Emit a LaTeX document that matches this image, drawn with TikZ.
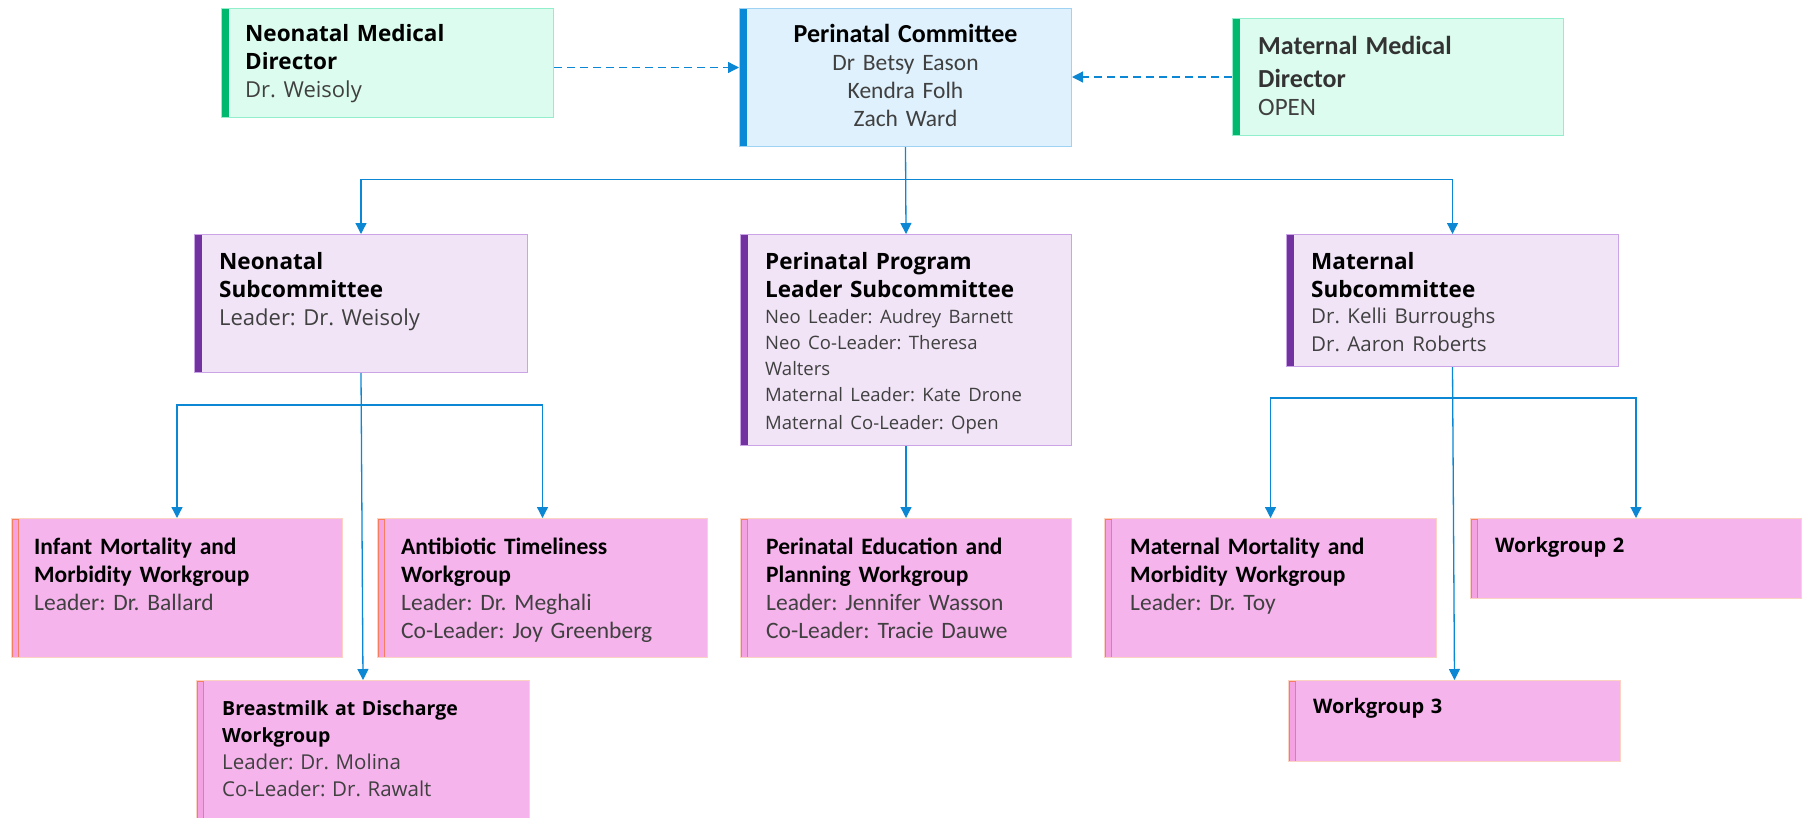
\documentclass[tikz,border=0pt]{standalone}
\usepackage{fontspec}
\setmainfont{Open Sans}
\newfontfamily\calibri{Carlito}
\usetikzlibrary{positioning}
\usetikzlibrary{arrows.meta}
\frenchspacing

\definecolor{mintfill}{HTML}{DCFCEF}
\definecolor{mintedge}{HTML}{93EFCB}
\definecolor{mintbar}{HTML}{00B86E}
\definecolor{skyfill}{HTML}{DEF1FD}
\definecolor{skyedge}{HTML}{9FD3F3}
\definecolor{skybar}{HTML}{0A8AD6}
\definecolor{lilacfill}{HTML}{F1E4F7}
\definecolor{lilacedge}{HTML}{CBA4E8}
\definecolor{lilacbar}{HTML}{7232A0}
\definecolor{pinkfill}{HTML}{F5B4EC}
\definecolor{pinkedge}{HTML}{FBD3C2}
\definecolor{pinkbar}{HTML}{F4A2E2}
\definecolor{orangebar}{HTML}{F47E5E}
\definecolor{linkblue}{HTML}{0B87D4}
\definecolor{bodygray}{HTML}{404040}

\tikzset{
	card/.style={
		draw,
		rectangle,
		line width=1pt,
		anchor=north west,
		inner sep=0pt,
		minimum width=332pt},
	bar/.style={path picture={
		\fill[#1] (path picture bounding box.north west) rectangle ([xshift=7pt]path picture bounding box.south west);}},
	director/.style={card, fill=mintfill, draw=mintedge, bar=mintbar},
	committee/.style={card, fill=skyfill, draw=skyedge, bar=skybar},
	subcom/.style={card, fill=lilacfill, draw=lilacedge, bar=lilacbar},
	workgroup/.style={card, fill=pinkfill, draw=pinkedge, path picture={
		\filldraw[fill=pinkbar, draw=orangebar, line width=1pt] ([xshift=0.5pt,yshift=-0.5pt]path picture bounding box.north west) rectangle ([xshift=7pt,yshift=0.5pt]path picture bounding box.south west);}},
	seg text/.style={
		anchor=north west,
		inner sep=0pt,
		align=left,
		text width=300pt,
		font=\fontsize{20}{27.6}\selectfont},
	big seg text/.style={
		seg text,
		font=\fontsize{22.5}{28}\selectfont},
	cal text/.style={
		seg text,
		font=\calibri\fontsize{23.5}{28}\selectfont},
	link/.style={
		draw=linkblue,
		line width=1.3pt,
		-{Triangle[length=11pt,width=11pt]}}
}

\begin{document}
\begin{tikzpicture}[x=1pt,y=-1pt]
	\useasboundingbox (0,0) rectangle (1806,817);
	% top row
	\node[director, minimum height=109pt] (nmd) at (221,8) {};
	\node[big seg text, below right=16.5pt and 24pt of nmd.north west] (nmdtext) {\textbf{Neonatal Medical\\Director}\par
		\fontsize{22}{26.5}\selectfont\color{bodygray}Dr. Weisoly};
	\node[committee, minimum height=138pt] (pc) at (739,8) {};
	\node[cal text, align=center, anchor=north, below=16.5pt of pc.north] (pctext) {{\fontsize{26}{28}\selectfont\bfseries Perinatal Committee\par}
		\color{bodygray}Dr Betsy Eason\\Kendra Folh\\Zach Ward};
	\node[director, minimum width=331pt, minimum height=117pt] (mmd) at (1232,18) {};
	\node[cal text, below right=18.5pt and 26pt of mmd.north west] (mmdtext) {{\fontsize{26}{33}\selectfont\bfseries\color{black!80}Maternal Medical\\Director\par}
		\fontsize{25}{28}\selectfont\color{bodygray}OPEN};
	% subcommittees
	\node[subcom, minimum width=333pt, minimum height=138pt] (ns) at (194,234) {};
	\node[big seg text, below right=18.4pt and 25pt of ns.north west] (nstext) {\textbf{Neonatal\\Subcommittee}\par
		\fontsize{22}{25.5}\selectfont\color{bodygray}Leader: Dr. Weisoly};
	\node[subcom, minimum width=331pt, minimum height=211pt] (ppls) at (740,234) {};
	\node[big seg text, below right=18.4pt and 25pt of ppls.north west] (pplstext) {\textbf{Perinatal Program\\Leader Subcommittee}\par
		\fontsize{18.5}{26}\selectfont\color{bodygray}Neo Leader: Audrey Barnett\\Neo Co-Leader: Theresa\\Walters\\Maternal Leader: Kate Drone\\Maternal Co-Leader: Open};
	\node[subcom, minimum height=132pt] (ms) at (1286,234) {};
	\node[big seg text, below right=18.4pt and 25pt of ms.north west] (mstext) {\textbf{Maternal\\Subcommittee}\par
		\fontsize{20.5}{26}\selectfont\color{bodygray}Dr. Kelli Burroughs\\Dr. Aaron Roberts};
	% workgroups
	\node[workgroup, minimum width=331pt, minimum height=139pt] (im) at (11,518) {};
	\node[cal text, below right=19.8pt and 23pt of im.north west] (imtext) {\textbf{Infant Mortality and\\Morbidity Workgroup}\\\color{bodygray}Leader: Dr. Ballard};
	\node[workgroup, minimum width=330pt, minimum height=139pt] (at) at (377,518) {};
	\node[cal text, below right=19.8pt and 24pt of at.north west] (attext) {\textbf{Antibiotic Timeliness\\Workgroup}\\\color{bodygray}Leader: Dr. Meghali\\Co-Leader: Joy Greenberg};
	\node[workgroup, minimum width=333pt, minimum height=145pt] (bm) at (196,680) {};
	\node[seg text, below right=20pt and 26pt of bm.north west] (bmtext) {{\fontsize{19.5}{27.6}\selectfont\bfseries Breastmilk at Discharge\\Workgroup\par}
		\fontsize{20.5}{26.5}\selectfont\color{bodygray}Leader: Dr. Molina\\Co-Leader: Dr. Rawalt};
	\node[workgroup, minimum width=331pt, minimum height=139pt] (pe) at (740,518) {};
	\node[cal text, below right=19.8pt and 26pt of pe.north west] (petext) {\textbf{Perinatal Education and\\Planning Workgroup}\\\color{bodygray}Leader: Jennifer Wasson\\Co-Leader: Tracie Dauwe};
	\node[workgroup, minimum height=139pt] (mm) at (1104,518) {};
	\node[cal text, below right=19.8pt and 26pt of mm.north west] (mmtext) {\textbf{Maternal Mortality and\\Morbidity Workgroup}\\\color{bodygray}Leader: Dr. Toy};
	\node[workgroup, minimum width=331pt, minimum height=80pt] (wg2) at (1470,518) {};
	\node[seg text, below right=19.3pt and 25pt of wg2.north west] (wg2text) {\textbf{Workgroup 2}};
	\node[workgroup, minimum height=81pt] (wg3) at (1288,680) {};
	\node[seg text, below right=18.5pt and 25pt of wg3.north west] (wg3text) {\textbf{Workgroup 3}};
	% connectors
	\draw[link, dash pattern=on 8pt off 5pt] ([yshift=-4.5pt]nmd.east) -- ([yshift=-4.5pt]nmd.east -| pc.west);
	\draw[link, dash pattern=on 8pt off 5pt] (mmd.west) -- (mmd.west -| pc.east);
	\coordinate[below=32.5pt of pc.south] (pcbus);
	\draw[link] (pc.south) -- (pcbus) -| (ns.north);
	\draw[link] (pcbus) -| (ms.north);
	\draw[link] (pc.south) -- (ppls.north);
	\coordinate[below=32pt of ns.south] (nsbus);
	\draw[link] (nsbus) -| (im.north);
	\draw[link] (nsbus) -| (at.north);
	\draw[link] (ns.south) -- (bm.north);
	\draw[link] (ppls.south) -- (pe.north);
	\coordinate[below=31pt of ms.south] (msbus);
	\draw[link] (msbus) -| (mm.north);
	\draw[link] (msbus) -| (wg2.north);
	\draw[link] (ms.south) -- (wg3.north);
\end{tikzpicture}
\end{document}
